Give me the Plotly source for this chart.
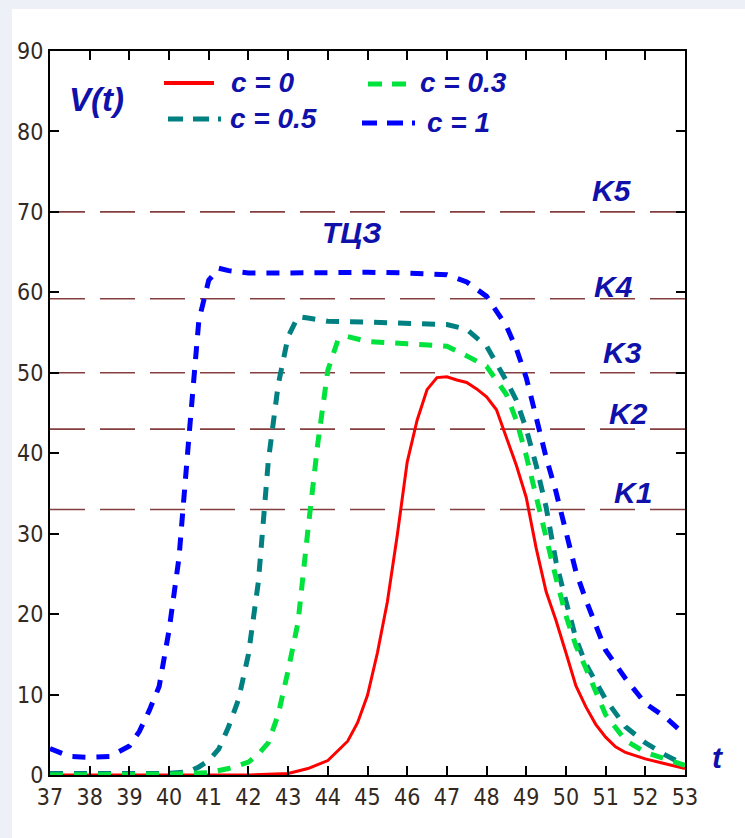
import plotly.graph_objects as go

# ---------------- data ----------------
t_c0 = [37, 42, 43, 43.5, 44, 44.5, 44.75, 45, 45.25, 45.5, 45.75, 46, 46.25, 46.5, 46.75, 47, 47.25,
        47.5, 47.75, 48, 48.25, 48.5, 48.75, 49, 49.25, 49.5, 49.75, 50, 50.25, 50.5, 50.75, 51, 51.25,
        51.5, 52, 52.5, 53]
v_c0 = [0, 0, 0.2, 0.8, 1.8, 4.2, 6.5, 9.9, 15.2, 21.5, 29.8, 38.9, 44.1, 47.9, 49.4, 49.5, 49.1,
        48.8, 48.0, 47.0, 45.4, 41.9, 38.5, 34.5, 28.2, 22.8, 19.2, 15.2, 11.1, 8.5, 6.3, 4.7, 3.5,
        2.8, 2.0, 1.4, 0.8]

t_c03 = [37, 38, 39, 40, 41, 41.5, 42, 42.25, 42.5, 42.75, 43, 43.25, 43.5, 43.75, 44, 44.25, 44.5,
         45, 46, 47, 47.5, 48, 48.5, 48.75, 49, 49.25, 49.5, 49.75, 50, 50.25, 50.5, 50.75, 51, 51.5,
         52, 52.5, 53]
v_c03 = [0, 0, 0, 0.1, 0.3, 0.8, 1.6, 2.6, 4.0, 7.5, 13.0, 19.0, 30.5, 41.3, 50.3, 54.0, 54.5,
         53.9, 53.6, 53.3, 52.1, 50.8, 47.3, 44.1, 39.7, 34.5, 29.7, 24.5, 19.8, 16.1, 13.3, 10.4, 7.5, 4.3,
         2.8, 2.0, 1.2]

t_c05 = [37, 38, 39, 40, 40.5, 40.75, 41, 41.25, 41.5, 41.75, 42, 42.25, 42.5, 42.75, 43, 43.25, 43.5,
         44, 45, 46, 47, 47.5, 48, 48.5, 48.75, 49, 49.25, 49.5, 49.75, 50, 50.25, 50.5, 51, 51.5, 52,
         52.5, 53]
v_c05 = [0.2, 0.2, 0.2, 0.2, 0.4, 1.0, 1.8, 3.2, 6.0, 9.4, 15.0, 24.0, 39.0, 48.5, 54.5, 57.0, 56.8,
         56.4, 56.3, 56.2, 56.0, 55.4, 53.3, 49.0, 46.6, 43.0, 38.5, 33.3, 26.5, 21.6, 17.0, 13.8, 9.4, 6.0, 4.0,
         2.5, 1.2]

t_c1 = [37, 37.5, 38, 38.5, 39, 39.25, 39.5, 39.75, 40, 40.25, 40.5, 40.75, 41, 41.25, 41.5, 42, 43, 44,
        45, 46, 47, 47.5, 48, 48.5, 48.75, 49, 49.25, 49.5, 49.75, 50, 50.25, 50.5, 50.75, 51, 51.5, 52,
        52.5, 53]
v_c1 = [3.3, 2.3, 2.2, 2.3, 3.6, 5.4, 8.0, 11.0, 18.0, 27.0, 42.0, 56.5, 61.5, 63.0, 62.7, 62.4, 62.4, 62.5,
        62.5, 62.4, 62.2, 61.3, 59.5, 55.8, 53.0, 49.4, 44.4, 39.5, 35.2, 30.0, 25.3, 21.8, 18.5, 15.5, 12.0, 8.9,
        7.2, 5.0]

k_levels = [33, 43, 50, 59.2, 70]
k_labels = ["K1", "K2", "K3", "K4", "K5"]
series_labels = ["c = 0", "c = 0.3", "c = 0.5", "c = 1"]
x_ticks = list(range(37, 54))
y_ticks = list(range(0, 91, 10))

# ---------------- styles ----------------
RED = "#ff0000"
GREEN = "#00e23c"
TEAL = "#008080"
BLUE = "#0000ff"
KCOL = "#853f3f"
TXT = "#1010aa"
TFONT = "Liberation Sans, Arial, sans-serif"
NFONT = "DejaVu Sans Condensed, Liberation Sans Narrow, Liberation Sans, sans-serif"

fig = go.Figure()

for k in k_levels:
    fig.add_trace(go.Scatter(x=[x_ticks[0], x_ticks[-1]], y=[k, k], mode="lines",
                             line=dict(color=KCOL, width=1.6, dash="35px,15px"),
                             hoverinfo="skip", showlegend=False))

DASH = "13px,11px"
fig.add_trace(go.Scatter(x=t_c1, y=v_c1, mode="lines", line=dict(color=BLUE, width=5, dash=DASH),
                         showlegend=False, cliponaxis=False))
fig.add_trace(go.Scatter(x=t_c05, y=v_c05, mode="lines", line=dict(color=TEAL, width=5, dash=DASH),
                         showlegend=False, cliponaxis=False))
fig.add_trace(go.Scatter(x=t_c0, y=v_c0, mode="lines", line=dict(color=RED, width=3),
                         showlegend=False, cliponaxis=False))
fig.add_trace(go.Scatter(x=t_c03, y=v_c03, mode="lines", line=dict(color=GREEN, width=5, dash=DASH),
                         showlegend=False, cliponaxis=False))

# geometry helpers (pixel -> paper)
L, R, T, B = 50, 60, 51, 63
W, H = 745, 838
PW, PH = W - L - R, H - T - B


def px(x):
    return (x - L) / PW


def py(y):
    return (H - B - y) / PH


shapes = [
    dict(type="rect", xref="paper", yref="paper", x0=px(12), x1=px(760), y0=py(9), y1=py(850),
         fillcolor="white", line=dict(width=0), layer="below"),
]

# manual legend samples
leg = [
    (164, 214, 83, RED, 4, "solid", 229, 82, series_labels[0]),
    (368, 412, 84, GREEN, 5, "14px,10px", 418, 82, series_labels[1]),
    (168, 222, 119, TEAL, 5, "15px,10px,16px,9px,3px", 228, 118, series_labels[2]),
    (362, 418, 123, BLUE, 5, "15px,10px,16px,9px,3px", 425, 122, series_labels[3]),
]
annotations = []
for x0, x1, yy, col, wdt, dsh, tx, ty, lab in leg:
    shapes.append(dict(type="line", xref="paper", yref="paper", x0=px(x0), x1=px(x1), y0=py(yy), y1=py(yy),
                       line=dict(color=col, width=wdt, dash=dsh)))
    annotations.append(dict(xref="paper", yref="paper", x=px(tx), y=py(ty), xanchor="left", yanchor="middle",
                            text=f"<b><i>{lab}</i></b>", showarrow=False,
                            font=dict(family=TFONT, size=28, color=TXT)))

# K labels
k_pos = [(633, 492), (628, 413), (622, 352), (613, 286), (612, 190)]
for (xx, yy), lab in zip(k_pos, k_labels):
    annotations.append(dict(xref="paper", yref="paper", x=px(xx), y=py(yy), xanchor="center", yanchor="middle",
                            text=f"<b><i>{lab}</i></b>", showarrow=False,
                            font=dict(family=TFONT, size=30, color=TXT)))

annotations.append(dict(xref="paper", yref="paper", x=px(351), y=py(232), xanchor="center", yanchor="middle",
                        text="<b><i>ТЦЗ</i></b>", showarrow=False, font=dict(family=TFONT, size=30, color=TXT)))
annotations.append(dict(xref="paper", yref="paper", x=px(96), y=py(99), xanchor="center", yanchor="middle",
                        text="<b><i>V(t)</i></b>", showarrow=False, font=dict(family=TFONT, size=33, color=TXT)))
annotations.append(dict(xref="paper", yref="paper", x=px(718), y=py(757), xanchor="center", yanchor="middle",
                        text="<b><i>t</i></b>", showarrow=False, font=dict(family=TFONT, size=30, color=TXT)))

axis_common = dict(showline=True, linecolor="black", linewidth=2, mirror="allticks", ticks="inside",
                   ticklen=9, tickwidth=1.6, tickcolor="black", showgrid=False, zeroline=False,
                   tickfont=dict(family=NFONT, size=23, color="#33291f"))

fig.update_layout(
    width=W, height=H,
    margin=dict(l=L, r=R, t=T, b=B),
    paper_bgcolor="#edf1f7",
    plot_bgcolor="white",
    xaxis=dict(range=[x_ticks[0], x_ticks[-1]], tickvals=x_ticks, ticktext=[str(v) for v in x_ticks],
               **axis_common),
    yaxis=dict(range=[y_ticks[0], y_ticks[-1]], tickvals=y_ticks, ticktext=[str(v) for v in y_ticks],
               **axis_common),
    shapes=shapes,
    annotations=annotations,
    showlegend=False,
)

fig.write_html("out.html")
